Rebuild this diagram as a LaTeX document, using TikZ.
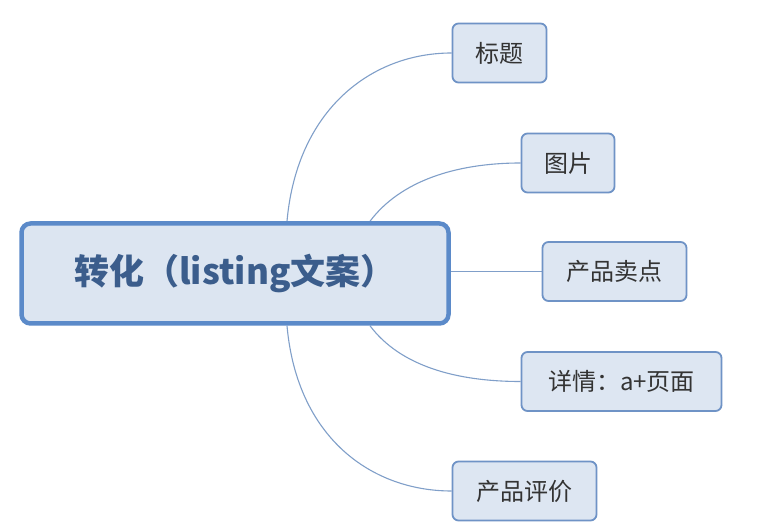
\documentclass[tikz,border=0pt]{standalone}
\usepackage{fontspec}
\usetikzlibrary{backgrounds}
\setmainfont{Noto Sans CJK SC}
\definecolor{rootline}{HTML}{5B8AC9}
\definecolor{rootfill}{HTML}{DCE5F1}
\definecolor{roottext}{HTML}{3B5D8C}
\definecolor{leafline}{HTML}{6F93C6}
\definecolor{leaffill}{HTML}{DDE6F2}
\definecolor{leaftext}{HTML}{333333}
\definecolor{link}{HTML}{809FC9}
\begin{document}
\begin{tikzpicture}[x=1pt,y=-1pt,
		rootbox/.style={draw=rootline,fill=rootfill,line width=4.5pt,rounded corners=9pt,
			minimum width=427pt,minimum height=100pt,inner sep=0pt,
			font=\fontsize{35}{40}\selectfont\bfseries,text=roottext},
		leafbox/.style={draw=leafline,fill=leaffill,line width=1.8pt,rounded corners=6pt,
			minimum height=59pt,inner sep=0pt,
			font=\fontsize{24}{28}\selectfont,text=leaftext},
		branch/.style={draw=link,line width=1.1pt}]
			\useasboundingbox (0,0) rectangle (764,529);
			\node[rootbox] (root) at (235,273.5) {转化（listing文案）};
			\node[leafbox,minimum width=94pt] (title) at (499.5,53) {标题};
			\node[leafbox,minimum width=93pt] (pic) at (568,163) {图片};
			\node[leafbox,minimum width=144pt] (sell) at (614.5,271.5) {产品卖点};
			\node[leafbox,minimum width=200pt] (detail) at (621.5,381.5) {详情：a+页面};
			\node[leafbox,minimum width=144pt] (review) at (524.5,491) {产品评价};
			\coordinate (t1) at ([xshift=52pt]root.north);
			\coordinate (t2) at ([xshift=135pt]root.north);
			\coordinate (b1) at ([xshift=52pt]root.south);
			\coordinate (b2) at ([xshift=135pt]root.south);
			\begin{scope}[on background layer]
			\fill[white] (0,0) rectangle (764,529);
			\draw[branch] (t1) .. controls ([xshift=10pt,yshift=112pt]t1) and ([xshift=-80pt]title.west) .. (title.west);
			\draw[branch] (t2) .. controls ([xshift=30pt,yshift=40pt]t2) and ([xshift=-65pt]pic.west) .. (pic.west);
			\draw[branch] (root.east |- sell.west) -- (sell.west);
			\draw[branch] (b2) .. controls ([xshift=30pt,yshift=-40pt]b2) and ([xshift=-65pt]detail.west) .. (detail.west);
			\draw[branch] (b1) .. controls ([xshift=10pt,yshift=-112pt]b1) and ([xshift=-80pt]review.west) .. (review.west);
			\end{scope}
		\end{tikzpicture}
\end{document}
